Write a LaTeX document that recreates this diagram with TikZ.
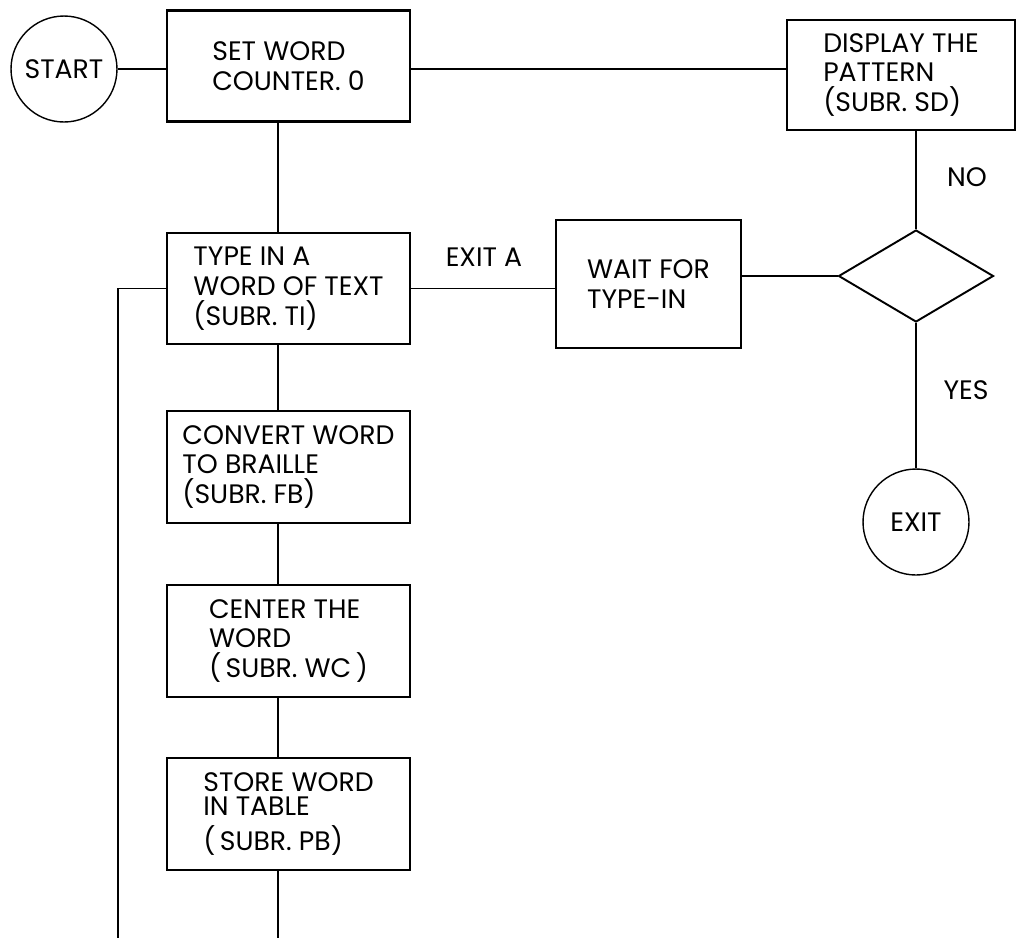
\documentclass[tikz,border=0pt]{standalone}
\usepackage{fontspec}
\setmainfont{Poppins}
\usetikzlibrary{shapes.geometric}

\begin{document}
\begin{tikzpicture}[
    x=0.02cm,y=-0.02cm,
    font=\fontsize{15.2}{17}\selectfont,
    box/.style={draw,line width=1.6pt,minimum width=4.86cm,minimum height=2.22cm,
      align=left,inner sep=0pt},
    term/.style={draw,circle,line width=0.8pt,minimum size=2.12cm,inner sep=0pt},
    test/.style={draw,diamond,line width=1.1pt,minimum width=3.1cm,
      minimum height=1.84cm,inner sep=0pt},
    line/.style={line width=1.1pt},
    lbl/.style={inner sep=0pt}
  ]
    \useasboundingbox (0,0) rectangle (1017,938);
    % main column
    \node[term] (start) at (64,69) {START};
    \node[box] (set) at (288.5,66) {SET WORD\\COUNTER. 0};
    \node[box] (type) at (288.5,288.5) {TYPE IN A\\WORD OF TEXT\\(SUBR. TI)};
    \node[box,minimum height=2.24cm] (conv) at (288.5,467) {CONVERT WORD\\TO BRAILLE\\(SUBR. FB)};
    \node[box,minimum height=2.24cm] (cent) at (288.5,641) {CENTER THE\\WORD\\(\,SUBR. WC\,)};
    \node[box,minimum height=2.24cm] (store) at (288.5,814) {STORE WORD\\[-3pt]IN TABLE\\[3pt](\,SUBR. PB)};
    % right side
    \node[box,minimum width=4.56cm,minimum height=2.2cm] (disp) at (901,75) {DISPLAY THE\\PATTERN\\(SUBR. SD)};
    \node[box,minimum width=3.7cm,minimum height=2.56cm] (wait) at (648.5,284) {WAIT FOR\\TYPE-IN};
    \node[test] (dec) at (916,276) {};
    \node[term] (exit) at (916,522) {EXIT};
    \node[lbl] (exita) at (484,257) {EXIT A};
    \node[lbl] (no) at (967,177) {NO};
    \node[lbl] (yes) at (966,390) {YES};
    \coordinate (spine) at (278,938);
    \coordinate (loop) at (118,938);

    \draw[line] (start) -- (start -| set.west);
    \draw[line] (set.east |- start) -- (start -| disp.west);
    \draw[line] (set.south -| spine) -- (type.north -| spine);
    \draw[line] (type.south -| spine) -- (conv.north -| spine);
    \draw[line] (conv.south -| spine) -- (cent.north -| spine);
    \draw[line] (cent.south -| spine) -- (store.north -| spine);
    \draw[line] (store.south -| spine) -- (spine);
    \draw[line] (type.west) -| (loop);
    \draw[line] (type.east) -- (type.east -| wait.west);
    \draw[line] (dec.west -| wait.east) -- (dec.west);
    \draw[line] (disp.south -| dec.north) -- (dec.north);
    \draw[line] (dec.south) -- (exit.north);
\end{tikzpicture}
\end{document}
